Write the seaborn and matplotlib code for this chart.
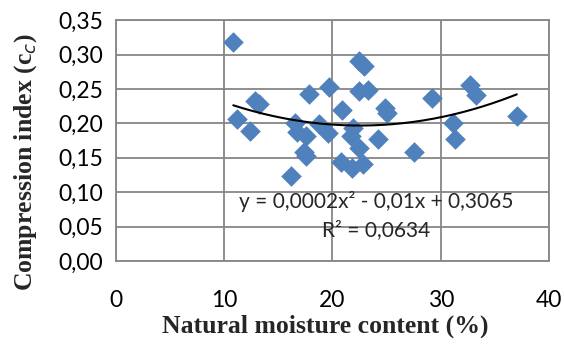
import numpy as np
import pandas as pd
import matplotlib
matplotlib.use("Agg")
import matplotlib.pyplot as plt
import seaborn as sns

moisture = [10.85, 11.16, 12.39, 12.9, 13.2, 17.8, 16.54, 16.7, 17.6, 18.75, 17.37, 17.6, 16.2,
            19.7, 19.6, 20.9, 22.47, 22.9, 22.47, 23.25, 21.9, 21.7, 22.4, 20.75, 21.83, 22.85,
            24.2, 24.84, 25.0, 29.15, 27.55, 31.15, 31.3, 32.7, 33.2, 37.0]
cc = [0.318, 0.206, 0.189, 0.233, 0.228, 0.242, 0.200, 0.188, 0.181, 0.199, 0.159, 0.152, 0.1235,
      0.253, 0.186, 0.219, 0.290, 0.283, 0.247, 0.249, 0.193, 0.181, 0.164, 0.144, 0.135, 0.141,
      0.177, 0.223, 0.215, 0.237, 0.159, 0.200, 0.177, 0.256, 0.241, 0.211]
x_ticks = [0, 10, 20, 30, 40]
y_ticks = [0.00, 0.05, 0.10, 0.15, 0.20, 0.25, 0.30, 0.35]
equation_text = "y = 0,0002x² - 0,01x + 0,3065"
r2_text = "R² = 0,0634"

df = pd.DataFrame({"moisture": moisture, "cc": cc})

sns.set_style("white")
plt.rcParams['font.family'] = ['Lato', 'DejaVu Sans']

fig = plt.figure(figsize=(5.64, 3.47), dpi=100)
ax = fig.add_axes([0.205, 0.248, 0.769, 0.694])

grid_col = "#868686"
for v in x_ticks:
    ax.axvline(v, color=grid_col, lw=1.3, zorder=0)
for v in y_ticks:
    ax.axhline(v, color=grid_col, lw=1.3, zorder=0)

sns.scatterplot(data=df, x="moisture", y="cc", marker="D", s=110, color="#4F81BD",
                linewidth=0, ax=ax, zorder=3)

coef = np.polyfit(df["moisture"], df["cc"], 2)
xs = np.linspace(min(moisture), max(moisture), 200)
ax.plot(xs, np.polyval(coef, xs), color="black", lw=1.5, zorder=4)

ax.set_xlim(0, 40)
ax.set_ylim(0, 0.35)
ax.set_xticks(x_ticks)
ax.set_yticks(y_ticks)
ax.set_xticklabels([str(v) for v in x_ticks])
ax.set_yticklabels([f"{v:.2f}".replace(".", ",") for v in y_ticks])
ax.tick_params(axis="both", labelsize=16.5, colors="black", length=5, width=1.3,
               color=grid_col, direction="out", pad=4)
ax.tick_params(axis="x", pad=16)
for s in ax.spines.values():
    s.set_color(grid_col)
    s.set_linewidth(1.3)

ax.text(24.0, 0.0866, equation_text, ha="center", va="center", fontsize=15, zorder=5)
ax.text(24.0, 0.0450, r2_text, ha="center", va="center", fontsize=15, zorder=5)

ax.set_xlabel("Natural moisture content (%)", fontsize=18.5, fontweight="bold",
              family="Liberation Serif")
ax.set_ylabel("Compression index (c$_c$)", fontsize=18.5, fontweight="bold",
              family="Liberation Serif")
ax.xaxis.set_label_coords(0.483, -0.222)
ax.yaxis.set_label_coords(-0.177, 0.41)

fig.savefig("out.png", dpi=100)
